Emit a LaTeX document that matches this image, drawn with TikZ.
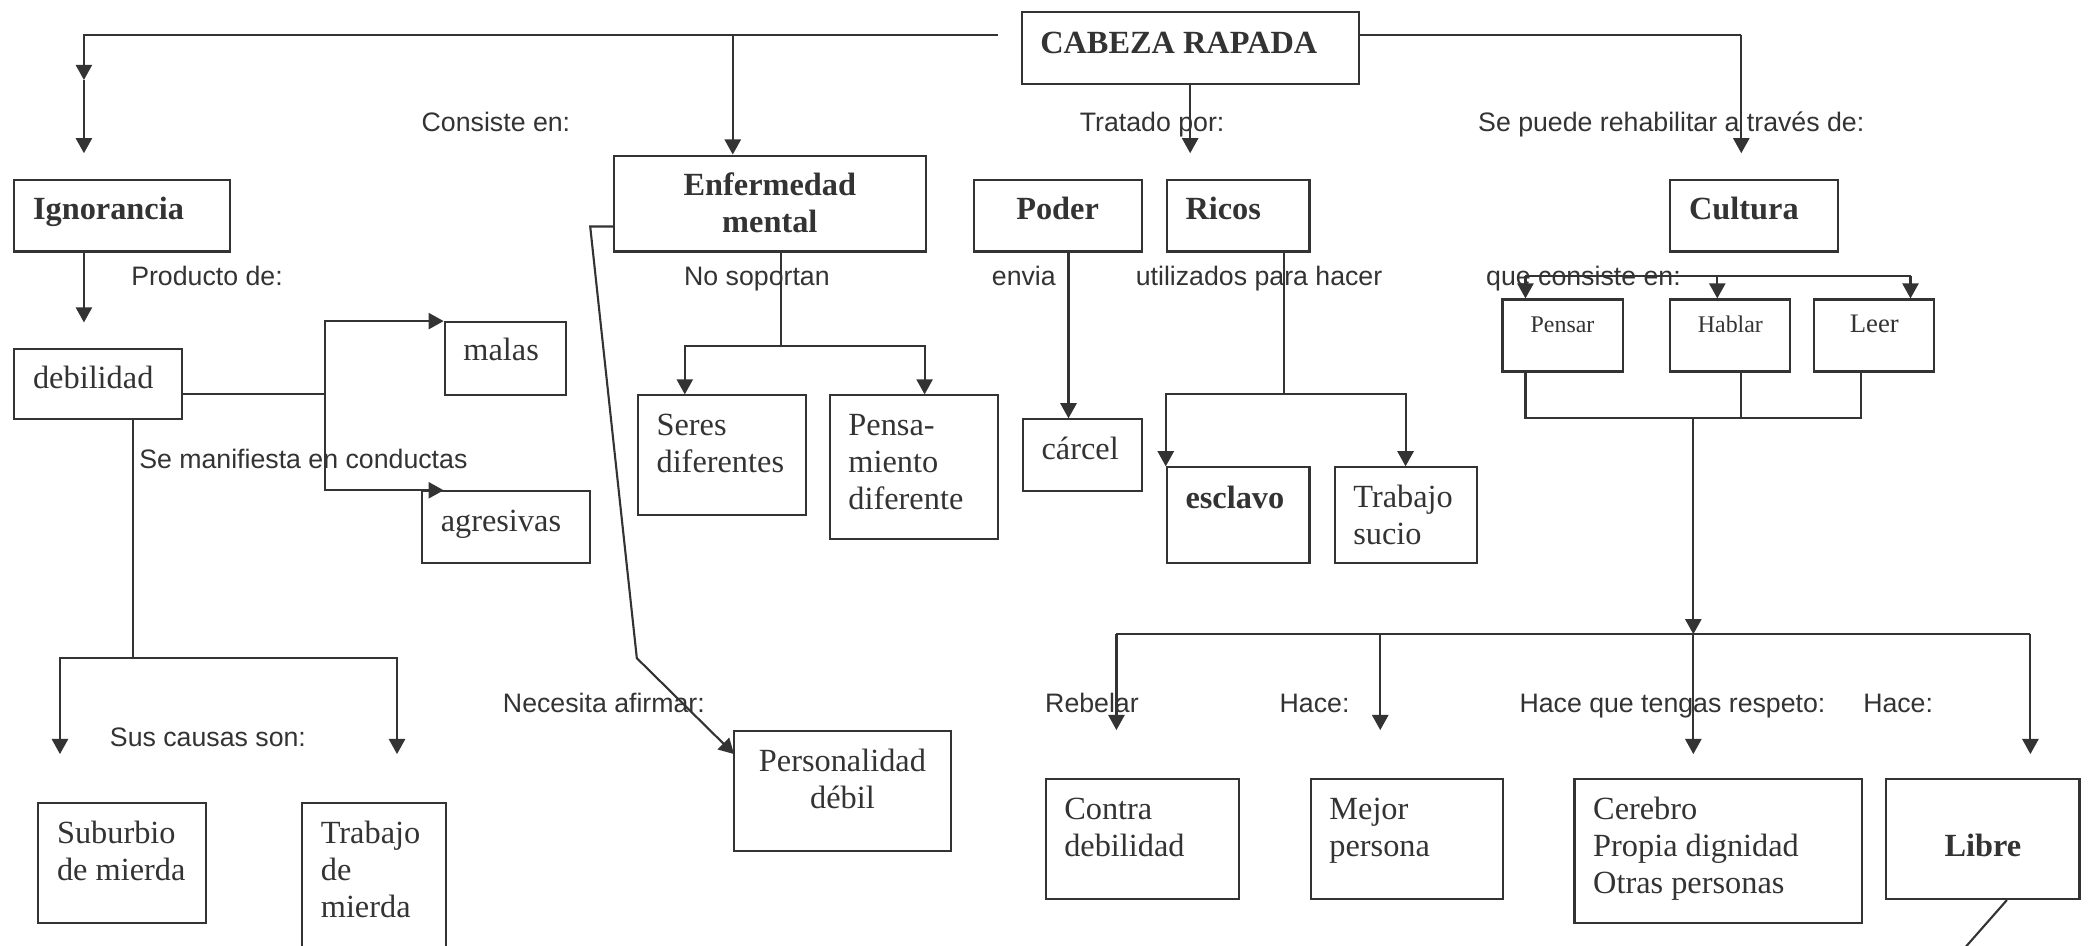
\documentclass[tikz,border=0pt]{standalone}
\usepackage{fontspec}
\setmainfont{Liberation Serif}
\newfontfamily\lblsans{Liberation Sans}
\usepackage{xcolor}
\usepackage{tikz}
\usetikzlibrary{arrows.meta,calc}
\definecolor{ink1}{HTML}{333333}
\newcommand{\pxu}{0.13323mm}
\hyphenpenalty=10000
\exhyphenpenalty=10000

\begin{document}
\begin{tikzpicture}[
    x=\pxu, y=-\pxu, ink1,
    conn/.style={draw=ink1, line width=0.6pt},
    arr/.style={conn, -{Triangle[length=4.3pt, width=4.6pt]}},
    cbox/.code n args={3}{%
      \pgfmathsetlengthmacro\bxw{(#1-28)*\pxu}%
      \pgfmathsetlengthmacro\bxh{#3*\pxu}%
      \pgfmathsetlengthmacro\bxd{(#2-#3)*\pxu}%
      \pgfkeysalso{draw=ink1, line width=0.6pt, anchor=north west,
        inner xsep=1.87mm, inner ysep=0pt, align=flush left,
        font=\fontsize{9.2}{10.6}\selectfont,
        text width/.expanded=\bxw, text height/.expanded=\bxh,
        text depth/.expanded=\bxd}},
    bold/.style={font=\fontsize{9.2}{10.6}\selectfont\bfseries},
    small/.style={align=flush center, font=\fontsize{6.8}{8}\selectfont},
    lbl/.style={anchor=base west, inner sep=0pt,
                font=\lblsans\fontsize{7.6}{9}\selectfont},
]
\useasboundingbox (0,0) rectangle (1568,710);

\node[cbox={253}{54}{31}, bold] (cab) at (766,8) {CABEZA RAPADA};
\node[cbox={162}{54}{30}, bold] (ign) at (10,134) {Ignorancia};
\node[cbox={234}{72}{30}, bold, align=flush center] (enf) at (460,116)
    {Enfermedad\\mental};
\node[cbox={126}{54}{30}, bold, align=flush center] (pod) at (730,134) {Poder};
\node[cbox={107}{54}{30}, bold] (ric) at (875,134) {Ricos};
\node[cbox={126}{54}{30}, bold] (cul) at (1253,134) {Cultura};

\node[cbox={126}{53}{30}] (deb) at (10,261) {debilidad};
\node[cbox={91}{55}{29}] (mal) at (333,241) {malas};
\node[cbox={126}{54}{30}] (agr) at (316,368) {agresivas};
\node[cbox={126}{90}{30}] (ser) at (478,296) {Seres\\diferentes};
\node[cbox={126}{108}{30}] (pen) at (622,296) {Pensa-\\miento\\diferente};
\node[cbox={89}{54}{30}] (car) at (767,314) {cárcel};
\node[cbox={107}{72}{31}, bold] (esc) at (875,350) {esclavo};
\node[cbox={107}{72}{30}] (trs) at (1001,350) {Trabajo\\sucio};

\node[cbox={90}{54}{25}, small] (psr) at (1127,224) {Pensar};
\node[cbox={90}{54}{25}, small] (hab) at (1253,224) {Hablar};
\node[cbox={90}{54}{25}, small, font=\fontsize{7.6}{9}\selectfont] (lee)
    at (1361,224) {Leer};

\node[cbox={126}{90}{30}] (sub) at (28,602) {Suburbio\\de~mierda};
\node[cbox={108}{120}{30}] (tdm) at (226,602) {Trabajo\\de\\mierda};
\node[cbox={163}{90}{30}, align=flush center] (per) at (550,548)
    {Personalidad\\débil};
\node[cbox={145}{90}{30}] (con) at (784,584) {Contra\\debilidad};
\node[cbox={144}{90}{30}] (mej) at (983,584) {Mejor\\persona};
\node[cbox={216}{108}{30}] (cer) at (1181,584)
    {Cerebro\\Propia dignidad\\Otras personas};
\node[cbox={145}{90}{58}, bold, align=flush center] (lib) at (1415,584) {Libre};

\node[lbl] (t1) at (316,99) {Consiste en:};
\node[lbl] (t2) at (810,99) {Tratado por:};
\node[lbl] (t3) at (1109,99) {Se puede rehabilitar a través de:};
\node[lbl] (t4) at (98,214) {Producto de:};
\node[lbl] (t5) at (513,214) {No soportan};
\node[lbl] (t6) at (744,214) {envia};
\node[lbl] (t7) at (852,214) {utilizados para hacer};
\node[lbl] (t8) at (1115,214) {que consiste en:};
\node[lbl] (t9) at (104,352) {Se manifiesta en conductas};
\node[lbl] (t10) at (377,535) {Necesita afirmar:};
\node[lbl] (t11) at (82,560) {Sus causas son:};
\node[lbl] (t12) at (784,535) {Rebelar};
\node[lbl] (t13) at (960,535) {Hace:};
\node[lbl] (t14) at (1140,535) {Hace que tengas respeto:};
\node[lbl] (t15) at (1398,535) {Hace:};

\coordinate (tl) at (749,26);
\coordinate (tr) at (1307,26);
\coordinate (ej) at (550,26);
\coordinate (ignm) at (63,60);
\coordinate (igna) at (63,115);
\coordinate (trat) at (892,115);
\coordinate (cula) at (1307,115);
\coordinate (deba) at (63,242);
\coordinate (dj) at (244,296);
\coordinate (agra) at (333,368);
\coordinate (cj) at (100,494);
\coordinate (suba) at (45,566);
\coordinate (tdma) at (298,566);
\coordinate (e1) at (443,170);
\coordinate (e2) at (478,494);
\coordinate (pera) at (551,566);
\coordinate (sj) at (586,260);
\coordinate (sera) at (514,296);
\coordinate (pena) at (694,296);
\coordinate (pj) at (802,250);
\coordinate (rj) at (964,296);
\coordinate (trsa) at (1055,350);
\coordinate (q1) at (1145,207);
\coordinate (q2) at (1289,207);
\coordinate (q3) at (1434,207);
\coordinate (b1) at (1145,314);
\coordinate (b2) at (1307,314);
\coordinate (b3) at (1397,314);
\coordinate (bm) at (1271,314);
\coordinate (hj) at (1271,476);
\coordinate (h1) at (838,476);
\coordinate (h4) at (1524,476);
\coordinate (d1) at (838,548);
\coordinate (d2) at (1036,548);
\coordinate (d3) at (1271,566);
\coordinate (d4) at (1524,566);
\coordinate (lend) at (1469,718);

\draw[arr] (tl) -| (ignm);
\draw[arr] (ignm) -- (igna);
\draw[arr] (ej) -- (ej |- enf.north);
\draw[arr] (cab.south) -- (cab.south |- trat);
\draw[conn] (cab.east |- tr) -- (tr);
\draw[arr] (tr) -- (cula);

\draw[arr] (ign.south -| igna) -- (deba);
\draw[conn] (deb.east |- dj) -- (dj);
\draw[arr] (dj) |- (mal.north west);
\draw[arr] (dj) |- (agra);
\draw[conn] (deb.south -| cj) -- (cj);
\draw[arr] (cj) -| (suba);
\draw[arr] (cj) -| (tdma);

\draw[arr] (enf.west |- e1) -- (e1) -- (e2) -- (pera);
\draw[conn] (enf.south -| sj) -- (sj);
\draw[arr] (sj) -| (sera);
\draw[arr] (sj) -| (pena);

\draw[arr] (pod.south -| pj) -- (car.north -| pj);
\draw[conn] (ric.south -| rj) -- (rj);
\draw[arr] (rj) -| (esc.north west);
\draw[arr] (rj) -| (trsa);

\draw[conn] (q1) -- (q3);
\foreach \q/\b in {q1/psr, q2/hab, q3/lee}
  \draw[arr] (\q) -- (\q |- \b.north);
\draw[conn] (psr.south -| b1) -- (b1) -- (b3) -- (lee.south -| b3);
\draw[conn] (hab.south -| b2) -- (b2);
\draw[arr] (bm) -- (hj);
\draw[conn] (h1) -- (h4);
\foreach \d in {d1,d2,d3,d4}
  \draw[arr] (\d |- hj) -- (\d);
\draw[conn] ([xshift=2.4mm]lib.south) -- (lend);
\end{tikzpicture}
\end{document}
